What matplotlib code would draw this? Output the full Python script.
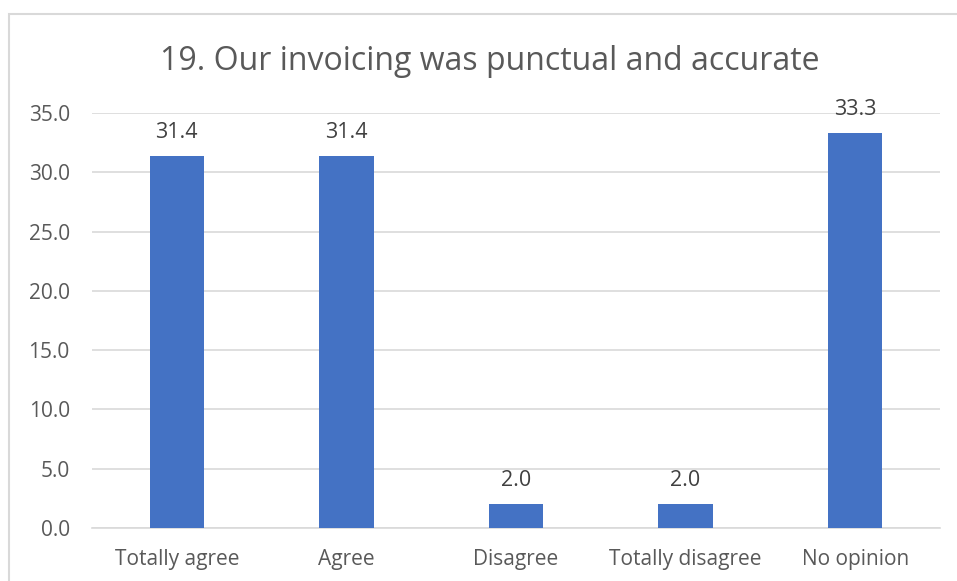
# plot.py: 請求書アンケートの棒グラフ
import matplotlib.pyplot as plt
from matplotlib.patches import Rectangle

# データ
categories = ['Totally agree', 'Agree', 'Disagree', 'Totally disagree', 'No opinion']
values = [31.4, 31.4, 2.0, 2.0, 33.3]
yticks = [0, 5, 10, 15, 20, 25, 30, 35]
title = '19. Our invoicing was punctual and accurate'

plt.rcParams['font.family'] = ['Open Sans', 'DejaVu Sans']
gray = '#595959'

fig = plt.figure(figsize=(9.57, 5.81), dpi=100)
ax = fig.add_axes([92 / 957, 1 - 528 / 581, 848 / 957, 415 / 581])

# 外枠 (上と左のみ見える)
fig.patches.append(Rectangle((9 / 957, -0.1), 1.2, 1 - 14 / 581 + 0.1,
                             transform=fig.transFigure, fill=False,
                             edgecolor='#d9d9d9', linewidth=1.5))

x = range(len(categories))
bars = ax.bar(x, values, width=0.32, color='#4472c4', zorder=3)

for b, v in zip(bars, values):
    ax.text(b.get_x() + b.get_width() / 2, v + 1.1, f'{v:.1f}',
            ha='center', va='bottom', fontsize=15.5, color='#404040')

ax.set_xlim(-0.5, 4.5)
ax.set_ylim(0, 35)
ax.set_yticks(yticks)
ax.set_yticklabels([f'{t:.1f}' for t in yticks])
ax.set_xticks(list(x))
ax.set_xticklabels(categories)
ax.tick_params(axis='both', length=0, labelsize=15, labelcolor=gray)
ax.tick_params(axis='y', pad=16)
ax.tick_params(axis='x', pad=15)

ax.grid(axis='y', color='#d9d9d9', linewidth=1.2, zorder=0)
for s in ['top', 'right', 'left']:
    ax.spines[s].set_visible(False)
ax.spines['bottom'].set_color('#d9d9d9')
ax.spines['bottom'].set_linewidth(1.2)

fig.text(490 / 957, 1 - 61 / 581, title, ha='center', va='center',
         fontsize=23, color=gray)

fig.savefig('out.png', dpi=100)
